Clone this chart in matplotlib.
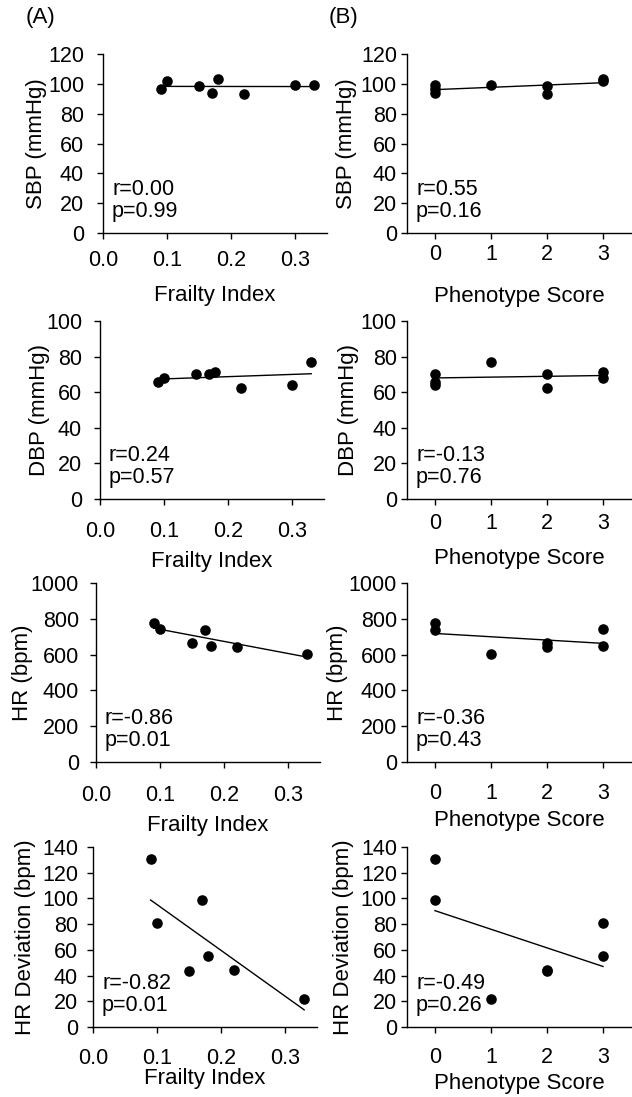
import numpy as np
import matplotlib.pyplot as plt

plt.rcParams['font.family'] = ['Liberation Sans', 'DejaVu Sans']

# one entry per animal (HR not recorded for the 0.30 animal)
frailty = [0.09, 0.10, 0.15, 0.17, 0.18, 0.22, 0.30, 0.33]
phenotype = [0, 3, 2, 0, 3, 2, 0, 1]
sbp = [96.5, 102.0, 98.8, 93.6, 103.2, 93.2, 99.2, 99.4]
dbp = [66.0, 68.2, 70.1, 70.1, 71.4, 62.2, 64.1, 77.0]
hr = [779, 742, 667, 738, 649, 645, np.nan, 604]
hr_dev = [130.4, 81.0, 43.3, 98.5, 55.0, 44.1, np.nan, 22.0]

outcomes = [sbp, dbp, hr, hr_dev]
ylabels = ['SBP (mmHg)', 'DBP (mmHg)', 'HR (bpm)', 'HR Deviation (bpm)']
yticks = [np.arange(0, 121, 20), np.arange(0, 101, 20),
          np.arange(0, 1001, 200), np.arange(0, 141, 20)]

stats_fi = [('r=0.00', 'p=0.99'), ('r=0.24', 'p=0.57'),
            ('r=-0.86', 'p=0.01'), ('r=-0.82', 'p=0.01')]
stats_ps = [('r=0.55', 'p=0.16'), ('r=-0.13', 'p=0.76'),
            ('r=-0.36', 'p=0.43'), ('r=-0.49', 'p=0.26')]

W, H = 632, 1097
fig = plt.figure(figsize=(W / 100, H / 100), dpi=100)

row_top = [54, 321, 583, 847]
row_bot = [233, 499, 762, 1027]
left_a = [103, 100, 96, 93]
left_b = 407
ax_w = 224
PT = 0.72  # points per pixel at 100 dpi

# per-panel text offsets (pixels)
ytick_gap = {'A': [13, 12, 11, 9], 'B': [4, 4, 4, 4]}
xtick_off = {'A': [17, 22, 23, 21], 'B': [11, 14, 21, 20]}
xlab_off = {'A': [52, 52, 53, 41], 'B': [53, 49, 48, 46]}
ylab_off = {'A': [56, 50, 63, 57], 'B': [50, 48, 59, 53]}

tick_len = 6


def draw(ax, x, y, stats, col, i, xlim, xticks, xticklabels, xlabel):
    x = np.asarray(x, float)
    y = np.asarray(y, float)
    ok = ~np.isnan(y)
    slope, icpt = np.polyfit(x[ok], y[ok], 1)
    xs = np.array([x[ok].min(), x[ok].max()])
    ax.plot(xs, icpt + slope * xs, color='black', lw=1.0, zorder=2)
    ax.scatter(x[ok], y[ok], s=58, color='black', zorder=3, linewidths=0)

    ax.set_xlim(*xlim)
    ax.set_ylim(0, yticks[i][-1])
    ax.set_xticks(xticks)
    ax.set_xticklabels(xticklabels)
    ax.set_yticks(yticks[i])
    for s in ['top', 'right']:
        ax.spines[s].set_visible(False)
    for s in ['left', 'bottom']:
        ax.spines[s].set_linewidth(1.0)
    ax.tick_params(direction='out', length=tick_len * PT, width=1.0,
                   labelsize=15.5)
    ax.tick_params(axis='y', pad=ytick_gap[col][i] * PT)
    ax.tick_params(axis='x', pad=(xtick_off[col][i] - tick_len) * PT)

    h = row_bot[i] - row_top[i]
    ax.set_xlabel(xlabel, fontsize=16)
    ax.xaxis.set_label_coords(0.5, -xlab_off[col][i] / h)
    ax.set_ylabel(ylabels[i], fontsize=16)
    ax.yaxis.set_label_coords(-ylab_off[col][i] / ax_w, 0.5)

    ax.text(9 / ax_w, 38 / h, stats[0], transform=ax.transAxes,
            fontsize=15.5, va='baseline', ha='left')
    ax.text(9 / ax_w, 16 / h, stats[1], transform=ax.transAxes,
            fontsize=15.5, va='baseline', ha='left')


for i in range(4):
    h = row_bot[i] - row_top[i]
    b = 1 - row_bot[i] / H
    ax_a = fig.add_axes([left_a[i] / W, b, ax_w / W, h / H])
    draw(ax_a, frailty, outcomes[i], stats_fi[i], 'A', i, (0, 0.35),
         [0, 0.1, 0.2, 0.3], ['0.0', '0.1', '0.2', '0.3'], 'Frailty Index')
    ax_b = fig.add_axes([left_b / W, b, ax_w / W, h / H])
    draw(ax_b, phenotype, outcomes[i], stats_ps[i], 'B', i, (-0.5, 3.5),
         [0, 1, 2, 3], ['0', '1', '2', '3'], 'Phenotype Score')

fig.text(26 / W, 1 - 18 / H, '(A)', fontsize=16, va='center', ha='left')
fig.text(329 / W, 1 - 18 / H, '(B)', fontsize=16, va='center', ha='left')

fig.savefig('out.png', dpi=100)
